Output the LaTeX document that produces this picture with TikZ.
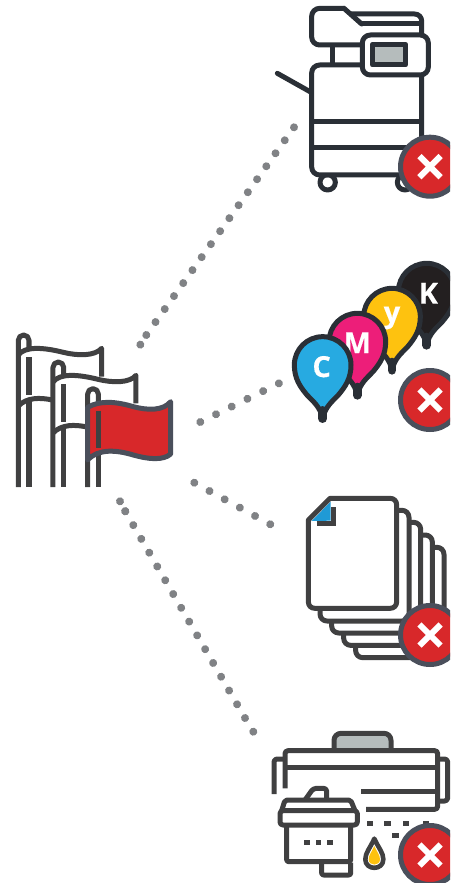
\documentclass[tikz,border=0pt]{standalone}
\usepackage{fontspec}
\newfontfamily\pinfont{Open Sans}[FakeBold=0.4,BoldFont={Open Sans Bold},BoldFeatures={FakeBold=0.4}]
\definecolor{ink}{HTML}{2A2F36}
\definecolor{gry}{HTML}{404041}
\definecolor{ring}{HTML}{4A4F5B}
\definecolor{alarm}{HTML}{D8282A}
\definecolor{dotc}{HTML}{808285}
\definecolor{panel}{HTML}{B5BCBC}
\definecolor{cyanp}{HTML}{27AAE1}
\definecolor{magp}{HTML}{ED1E79}
\definecolor{yelp}{HTML}{FEC20F}
\definecolor{blkp}{HTML}{231F20}
\definecolor{foldb}{HTML}{1F9AD6}
\tikzset{
  icon/.style={line width=5pt,line join=round},
  dotpath/.style={draw=dotc,line width=8pt,line cap=round,dash pattern=on 0.01pt off #1pt},
}
\newcommand{\badge}[3]{%
  \coordinate (#1) at (#2,#3);
  \filldraw[draw=ring,fill=alarm,line width=5pt] (#1) circle (29.5);
  \draw[white,line width=6pt] ($(#1)+(-10.6,-10.6)$) -- ($(#1)+(10.6,10.6)$);
  \draw[white,line width=6pt] ($(#1)+(-10.6,10.6)$) -- ($(#1)+(10.6,-10.6)$);
}
\newcommand{\mappin}[5]{%
  \begin{scope}[shift={(#1,#2)}]
    \filldraw[draw=ink,fill=#3,line width=5pt,line join=round]
      (85,0) .. controls (85,-47) and (47,-85) .. (0,-85)
      .. controls (-47,-85) and (-85,-47) .. (-85,0)
      .. controls (-85,40) and (-68,65) .. (-47,90)
      .. controls (-28,110) and (-8,125) .. (0,160)
      .. controls (8,125) and (28,110) .. (47,90)
      .. controls (68,65) and (85,40) .. (85,0) -- cycle;
    \draw[ink,line width=8.6pt,line cap=round] (0,136) -- (0,161);
    \node[text=white,font=\pinfont\bfseries\fontsize{29}{29}\selectfont,inner sep=0pt] (#4) at (#5) {\pinlabel};
  \end{scope}}
\usetikzlibrary{calc}
\begin{document}
\begin{tikzpicture}[x=1pt,y=-1pt]
\useasboundingbox (0,0) rectangle (450,883);
\clip (0,0) rectangle (450,883);
% connectors
\coordinate (a0) at (294,127.3);
\coordinate (a1) at (146.3,335);
\coordinate (a2) at (140.3,344.7);
\coordinate (b0) at (200.3,422);
\coordinate (b1) at (279,383.3);
\coordinate (c0) at (194.3,482.7);
\coordinate (c1) at (270.3,524.3);
\coordinate (d0) at (120,501.3);
\coordinate (d1) at (125.3,511.3);
\coordinate (d2) at (253.3,731.7);
\coordinate (d3) at (245,718);
\draw[dotpath=15.92] (a0) -- (a1);
\draw[dotpath=11.3] (a1) -- (a2);
\draw[dotpath=17.5] (b0) -- (b1);
\draw[dotpath=17.3] (c0) -- (c1);
\draw[dotpath=11.2] (d0) -- (d1);
\draw[dotpath=15.92] (d1) -- (d3);
\draw[dotpath=16] (d3) -- (d2);
% copier
\begin{scope}[shift={(260,0)},scale=1/3,icon,ink]
  \draw (203,547) circle (23);
  \draw (435,547) circle (23);
  \draw[fill=white,rounded corners=8pt] (155,195) rectangle (485,525);
  \draw (155,365) -- (485,365);
  \draw (155,442) -- (485,442);
  \draw[line cap=round] (52,220) -- (150,275);
  \draw (217,135) -- (217,195);
  \draw[rounded corners=7pt] (270,42) -- (485,42) -- (485,105);
  \draw (305,72) -- (485,72);
  \draw[rounded corners=8pt] (305,135) -- (155,135) -- (155,25) -- (255,25);
  \draw[line cap=round] (252,25) -- (305,72);
  \draw[fill=white,rounded corners=8pt] (307,105) rectangle (505,225);
  \draw[fill=panel] (337,133) rectangle (437,195);
\end{scope}
% pins
\def\pinlabel{K}\begin{scope}[shift={(280,250)},scale=1/3]\mappin{440}{125}{blkp}{pk}{5,5}\end{scope}
\def\pinlabel{y}\begin{scope}[shift={(280,250)},scale=1/3]\mappin{336}{200}{yelp}{py}{0,4}\end{scope}
\def\pinlabel{M}\begin{scope}[shift={(280,250)},scale=1/3]\mappin{232}{275}{magp}{pm}{0,3}\end{scope}
\def\pinlabel{C}\begin{scope}[shift={(280,250)},scale=1/3]\mappin{128}{345}{cyanp}{pc}{-3,5}\end{scope}
% flags
\begin{scope}[shift={(0,320)},scale=1/3,icon,gry]
  \draw (55,501) -- (55,61) arc[start angle=180,end angle=360,radius=16] -- (87,85);
  \draw (87,240) -- (87,501);
  \draw (87,112) -- (87,225);
  \draw (55,105) .. controls (75,78) and (130,82) .. (190,97) .. controls (235,108) and (285,108) .. (305,85) -- (305,170);
  \draw (55,258) .. controls (80,232) and (120,232) .. (157,240);
  \draw (159,501) -- (159,142) arc[start angle=180,end angle=360,radius=16] -- (191,166);
  \draw (191,320) -- (191,501);
  \draw (191,192) -- (191,305);
  \draw (159,186) .. controls (179,159) and (234,163) .. (294,178) .. controls (339,189) and (389,189) .. (408,166) -- (408,250);
  \draw (159,339) .. controls (184,313) and (224,313) .. (261,321);
  \draw (263,501) -- (263,222) arc[start angle=180,end angle=360,radius=16] -- (295,250);
  \draw (295,400) -- (295,501);
  \filldraw[draw=ring,fill=alarm] (263,262) .. controls (300,240) and (350,245) .. (400,260)
     .. controls (445,272) and (490,272) .. (512,245) -- (512,402)
     .. controls (490,422) and (445,418) .. (400,405)
     .. controls (350,390) and (295,385) .. (263,420) -- cycle;
  \draw (295,272) -- (295,385);
\end{scope}
% sheets
\begin{scope}[shift={(290,485)},scale=1/3,icon,gry]
  \draw[fill=white,rounded corners=7pt] (197,187) rectangle (462,518);
  \draw[fill=white,rounded corners=7pt] (161,150) rectangle (427,481);
  \draw[fill=white,rounded corners=7pt] (125,112) rectangle (392,444);
  \draw[fill=white,rounded corners=7pt] (90,76) rectangle (357,408);
  \draw[fill=white] (55,105) -- (120,40) -- (300,40) .. controls (312,40) and (320,48) .. (320,60)
     -- (320,350) .. controls (320,362) and (312,370) .. (300,370)
     -- (75,370) .. controls (63,370) and (55,362) .. (55,350) -- cycle;
  \fill[foldb] (65,108) -- (122,50) -- (122,107) -- cycle;
  \draw[line join=miter] (80,115) -- (130,115) -- (130,65);
\end{scope}
% printhead
\begin{scope}[shift={(260,720)},scale=1/3,icon,gry]
  \draw[fill=panel,rounded corners=7pt] (222,92) -- (222,40) -- (393,40) -- (393,92);
  \draw[rounded corners=3pt] (75,205) -- (75,92) -- (533,92) -- (533,268) -- (318,268);
  \draw (75,142) -- (533,142);
  \draw (304,215) -- (533,215);
  \draw[rounded corners=3pt] (42,222) -- (42,117) -- (75,117);
  \draw[rounded corners=3pt] (533,117) -- (563,117) -- (563,243) -- (533,243);
  \foreach \x in {320,373,428,488} \fill (\x,303) rectangle (\x+20,318);
  \fill (397,339) rectangle (417,354);
  \draw[fill=white,rounded corners=3pt] (135,240) -- (160,205) -- (200,205) -- (200,240);
  \draw[fill=white,rounded corners=2pt] (65,272) -- (75,240) -- (272,240) -- (285,272);
  \draw[fill=white,rounded corners=3pt] (60,272) rectangle (292,315);
  \draw[rounded corners=2pt] (80,315) -- (80,425) -- (272,425) -- (272,315);
  \draw[rounded corners=2pt] (185,428) -- (185,465) -- (272,465) -- (272,428);
  \foreach \x in {132,167,202} \fill (\x,361) rectangle (\x+17,376);
  \draw[line width=4.6pt] (343,356) .. controls (330,385) and (316,398) .. (316,418) .. controls (316,452) and (370,452) .. (370,418) .. controls (370,398) and (356,385) .. (343,356) -- cycle;
  \fill[yelp] (343,378) .. controls (335,396) and (326,405) .. (326,418) .. controls (326,439) and (360,439) .. (360,418) .. controls (360,405) and (351,396) .. (343,378) -- cycle;
\end{scope}
% badges
\badge{x1}{430}{166.7}
\badge{x2}{430}{400}
\badge{x3}{430}{635}
\badge{x4}{430}{855}
\end{tikzpicture}
\end{document}
